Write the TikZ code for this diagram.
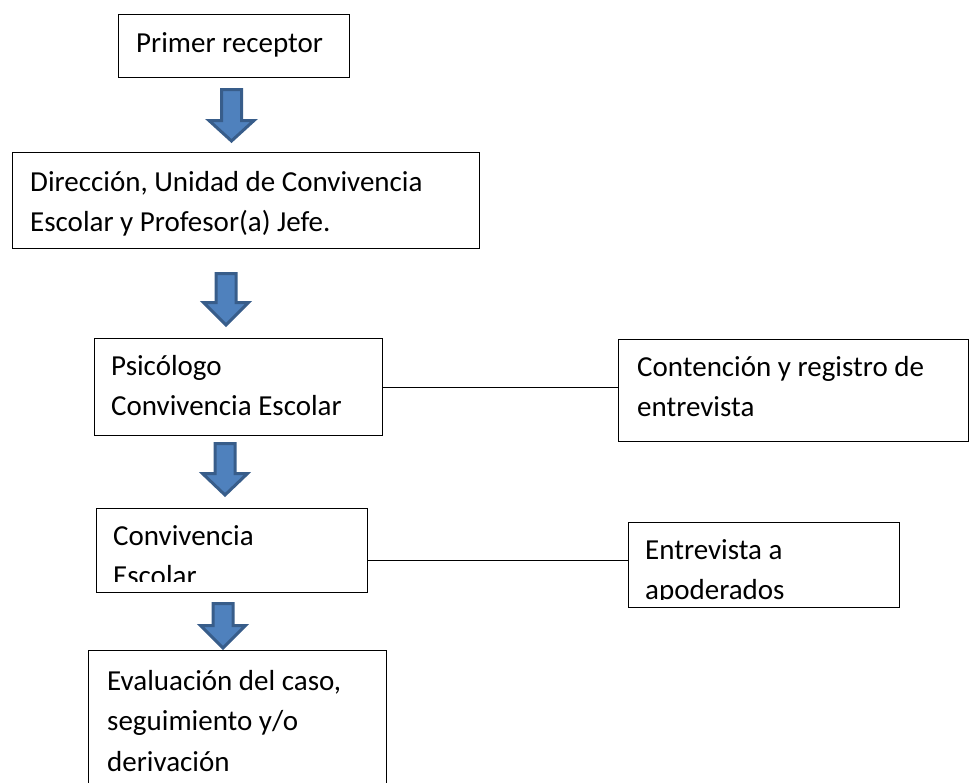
\documentclass[tikz,border=0pt]{standalone}
\usepackage{fontspec}
\setmainfont{Carlito}
\definecolor{arrowfill}{RGB}{79,129,189}
\definecolor{arrowedge}{RGB}{56,93,138}
\tikzstyle{box} = [rectangle, 
draw=black, 
line width=1.3pt, 
anchor=north west, 
inner sep=0pt]
% base west sits on the last line of the text
\tikzstyle{boxtext} = [anchor=base west, 
align=left, 
inner sep=0pt, 
font=\fontsize{29}{40.5}\selectfont]
\tikzstyle{blockarrow} = [fill=arrowfill, draw=arrowedge, line width=3pt, line join=miter]
\tikzstyle{link} = [line width=1.3pt]
\begin{document}
\begin{tikzpicture}[x=1pt, y=-1pt]
\useasboundingbox (0,0) rectangle (969,782);
\clip (0,0) rectangle (969,782);

%-----------boxes
\node (primer) [box, minimum width=231, minimum height=63] at (118,14) {};
\node (direccion) [box, minimum width=467, minimum height=96] at (12,152) {};
\node (psicologo) [box, minimum width=288, minimum height=97] at (94,338) {};
\node (contencion) [box, minimum width=350, minimum height=102] at (618,339) {};
\node (convivencia) [box, minimum width=271, minimum height=84] at (96,508) {};
\node (entrevista) [box, minimum width=271, minimum height=85] at (628,522) {};
\node (evaluacion) [box, minimum width=298, minimum height=160] at (88,650) {};

%-----------texts
\node (primertxt) [boxtext] at (136,52) {Primer receptor};
\node (direcciontxt) [boxtext] at (30,231.5) 
  {Dirección, Unidad de Convivencia\\Escolar y Profesor(a) Jefe.};
\node (psicologotxt) [boxtext] at (111,415.5) {Psicólogo\\Convivencia Escolar};
\node (contenciontxt) [boxtext] at (637,416.5) {Contención y registro de\\entrevista};
\begin{scope}
  \clip (convivencia.north west) rectangle ([yshift=12pt]convivencia.south east);
  \node (convivenciatxt) [boxtext] at (113,585.5) {Convivencia\\Escolar};
\end{scope}
\begin{scope}
  \clip (entrevista.north west) rectangle ([yshift=8.7pt]entrevista.south east);
  \node (entrevistatxt) [boxtext] at (645,599.5) {Entrevista a\\apoderados};
\end{scope}
\node (evaluaciontxt) [boxtext] at (107,771) 
  {Evaluación del caso,\\seguimiento y/o\\derivación};

%-----------side lines
\coordinate (convline) at ([yshift=-10pt]convivencia.east);
\draw [link] (psicologo.east) -- (psicologo.east -| contencion.west);
\draw [link] (convline) -- (convline -| entrevista.west);

%-----------block arrows
\foreach \cx/\ytop/\ybase/\ytip in {231.5/89.5/120.5/141, 226/273.5/302.5/325,
  225/443.5/473.5/495, 223/603.5/625.5/648}
  \draw [blockarrow] (\cx-10,\ytop) -- (\cx+10,\ytop) -- (\cx+10,\ybase)
    -- (\cx+22.5,\ybase) -- (\cx,\ytip) -- (\cx-22.5,\ybase)
    -- (\cx-10,\ybase) -- cycle;

\end{tikzpicture}
\end{document}
